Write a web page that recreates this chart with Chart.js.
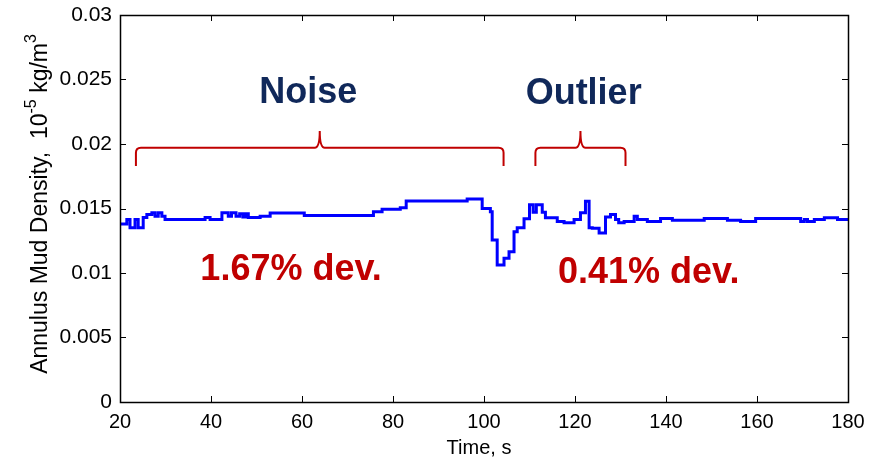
<!DOCTYPE html>
<html>
<head>
<meta charset="utf-8">
<script src="https://cdn.jsdelivr.net/npm/chart.js@4"></script>
<style>
  html, body { margin: 0; padding: 0; background: #fff; }
  #wrap { width: 869px; height: 464px; }
</style>
</head>
<body>
<div id="wrap"><canvas id="chart"></canvas></div>
<script>
// step start times (s) and annulus mud density held until the next step
const timeS = [
  20.0, 21.5, 22.2, 23.3, 24.0, 25.1, 25.9, 27.0, 27.7, 28.4, 29.2, 29.9,
  38.7, 39.8, 42.4, 43.8, 44.5, 45.5, 46.3, 47.0, 47.6, 48.2, 50.8, 53.0,
  60.5, 75.7, 77.6, 81.6, 82.9, 96.3, 99.6, 101.4, 101.8, 102.9, 104.4, 105.5,
  106.6, 107.3, 108.8, 110.0, 110.8, 111.5, 112.8, 113.5, 116.1, 117.6, 119.8, 121.2,
  122.3, 123.1, 123.8, 125.3, 126.7, 127.8, 128.9, 129.6, 130.8, 133.0, 133.7, 135.9,
  138.8, 141.4, 148.4, 153.5, 156.4, 159.7, 169.6, 170.4, 171.1, 172.6, 174.8, 177.7,
  180.0
];
const density = [
  0.0138, 0.01415, 0.0135, 0.01415, 0.0135, 0.0143, 0.01453, 0.01467, 0.0144, 0.01467, 0.0144, 0.01415,
  0.0143, 0.01415, 0.01467, 0.0144, 0.01467, 0.0144, 0.0146, 0.01435, 0.0146, 0.0143, 0.0144, 0.01465,
  0.01445, 0.01475, 0.01494, 0.01506, 0.01558, 0.01573, 0.0150, 0.01475, 0.01256, 0.01062, 0.01114, 0.01165,
  0.0132, 0.0135, 0.0142, 0.0153, 0.0147, 0.0153, 0.0147, 0.01428, 0.0140, 0.01389, 0.01415, 0.01467,
  0.01557, 0.0135, 0.01346, 0.01311, 0.01435, 0.01453, 0.01415, 0.01389, 0.0140, 0.0144, 0.01415, 0.0140,
  0.01423, 0.01408, 0.01423, 0.01408, 0.0140, 0.01423, 0.0140, 0.01415, 0.0140, 0.01415, 0.01428, 0.01415,
  0.01415
];

const xTicks = [20, 40, 60, 80, 100, 120, 140, 160, 180];
const yTickLabels = ['0', '0.005', '0.01', '0.015', '0.02', '0.025', '0.03'];

// curly braces over the two regions: [start, end] in seconds
const noiseSpan = [23.5, 104.3];
const outlierSpan = [111.3, 131.1];
const braceLevel = 0.0197;   // horizontal stroke
const braceTip = 0.0210;     // middle point
const braceFoot = 0.0183;    // end legs

// annotation texts: [label, time, density (baseline), colour]
const notes = [
  ['Noise', 61.4, 0.0232, '#10285a'],
  ['Outlier', 121.9, 0.0231, '#10285a'],
  ['1.67% dev.', 57.6, 0.00946, '#c00000'],
  ['0.41% dev.', 136.2, 0.00922, '#c00000']
];

const points = timeS.map((t, i) => ({ x: t, y: density[i] }));

const FONT = "'Liberation Sans', Arial, sans-serif";

function drawBrace(ctx, xs, ys, span) {
  const x0 = xs.getPixelForValue(span[0]);
  const x1 = xs.getPixelForValue(span[1]);
  const xm = (x0 + x1) / 2;
  const yl = ys.getPixelForValue(braceLevel);
  const yt = ys.getPixelForValue(braceTip);
  const yf = ys.getPixelForValue(braceFoot);
  const r = 5;
  ctx.beginPath();
  ctx.moveTo(x0, yf);
  ctx.lineTo(x0, yl + r);
  ctx.quadraticCurveTo(x0, yl, x0 + r, yl);
  ctx.lineTo(xm - r, yl);
  ctx.quadraticCurveTo(xm, yl, xm, yt);
  ctx.quadraticCurveTo(xm, yl, xm + r, yl);
  ctx.lineTo(x1 - r, yl);
  ctx.quadraticCurveTo(x1, yl, x1, yl + r);
  ctx.lineTo(x1, yf);
  ctx.stroke();
}

const decorations = {
  id: 'decorations',
  afterDatasetsDraw(chart) {
    const { ctx } = chart;
    const xs = chart.scales.x, ys = chart.scales.y;
    ctx.save();
    ctx.strokeStyle = '#c00000';
    ctx.lineWidth = 2;
    drawBrace(ctx, xs, ys, noiseSpan);
    drawBrace(ctx, xs, ys, outlierSpan);

    ctx.font = 'bold 36px ' + FONT;
    ctx.textAlign = 'center';
    ctx.textBaseline = 'alphabetic';
    notes.forEach(([txt, t, v, col]) => {
      ctx.fillStyle = col;
      ctx.fillText(txt, xs.getPixelForValue(t), ys.getPixelForValue(v));
    });
    ctx.restore();
  },
  afterDraw(chart) {
    const { ctx, chartArea: a } = chart;
    const xs = chart.scales.x, ys = chart.scales.y;
    ctx.save();
    // axes box
    ctx.strokeStyle = '#000';
    ctx.lineWidth = 1.5;
    ctx.strokeRect(Math.round(a.left) + 0.5, Math.round(a.top) + 0.5,
      Math.round(a.right - a.left), Math.round(a.bottom - a.top));
    // inward tick marks on all four sides
    const len = 6;
    ctx.lineWidth = 1;
    ctx.beginPath();
    xs.ticks.forEach(tk => {
      const px = Math.round(xs.getPixelForValue(tk.value)) + 0.5;
      ctx.moveTo(px, a.bottom); ctx.lineTo(px, a.bottom - len);
      ctx.moveTo(px, a.top); ctx.lineTo(px, a.top + len);
    });
    ys.ticks.forEach(tk => {
      const py = Math.round(ys.getPixelForValue(tk.value)) + 0.5;
      ctx.moveTo(a.left, py); ctx.lineTo(a.left + len, py);
      ctx.moveTo(a.right, py); ctx.lineTo(a.right - len, py);
    });
    ctx.stroke();

    // axis titles
    ctx.fillStyle = '#000';
    ctx.textBaseline = 'middle';
    ctx.font = '20px ' + FONT;
    ctx.textAlign = 'center';
    ctx.fillText('Time, s', (a.left + a.right) / 2 - 5, 448);

    // y title with superscripts, rotated
    const parts = [
      ['Annulus Mud Density,  10', 23, 0],
      ['-5', 16, -9],
      [' kg/m', 23, 0],
      ['3', 16, -9]
    ];
    let total = 0;
    parts.forEach(p => { ctx.font = p[1] + 'px ' + FONT; total += ctx.measureText(p[0]).width; });
    ctx.translate(41, 204);
    ctx.rotate(-Math.PI / 2);
    ctx.textAlign = 'left';
    let x = -total / 2;
    parts.forEach(p => {
      ctx.font = p[1] + 'px ' + FONT;
      ctx.fillText(p[0], x, p[2]);
      x += ctx.measureText(p[0]).width;
    });
    ctx.restore();
  }
};

new Chart(document.getElementById('chart'), {
  type: 'line',
  data: {
    datasets: [{
      data: points,
      borderColor: '#0000ff',
      borderWidth: 3,
      pointRadius: 0,
      stepped: true,
      fill: false
    }]
  },
  options: {
    responsive: true,
    maintainAspectRatio: false,
    animation: false,
    events: [],
    layout: { padding: { left: 0, right: 21, top: 15, bottom: 0 } },
    plugins: { legend: { display: false }, tooltip: { enabled: false } },
    scales: {
      x: {
        type: 'linear',
        min: 20, max: 180,
        afterBuildTicks: s => { s.ticks = xTicks.map(v => ({ value: v })); },
        afterFit: s => { s.height = 62; s.paddingLeft = 0; s.paddingRight = 0; },
        grid: { display: false, drawTicks: false },
        border: { display: false },
        ticks: { padding: 8, color: '#000', font: { family: FONT, size: 20 }, maxRotation: 0 }
      },
      y: {
        min: 0, max: 0.03,
        ticks: {
          stepSize: 0.005,
          padding: 8,
          color: '#000',
          font: { family: FONT, size: 21 },
          callback: (v, i) => yTickLabels[i]
        },
        afterFit: s => { s.width = 120; s.paddingTop = 0; s.paddingBottom = 0; },
        grid: { display: false, drawTicks: false },
        border: { display: false }
      }
    }
  },
  plugins: [decorations]
});
</script>
</body>
</html>
